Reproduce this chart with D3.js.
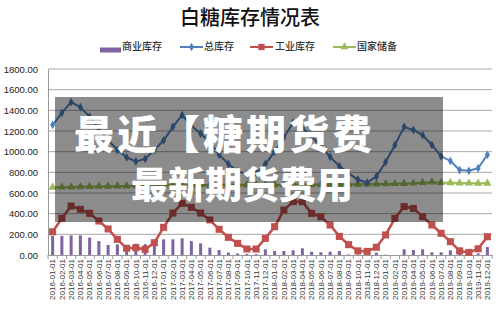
<!DOCTYPE html>
<meta charset="utf-8">
<script src="https://d3js.org/d3.v7.min.js"></script>
<style>
  body { margin: 0; background: #fff; }
  text { font-family: "Liberation Sans", "DejaVu Sans", sans-serif; }
  .cjk { font-family: "Noto Sans CJK SC", sans-serif; }
</style>
<body>
<div id="chart"></div>
<script>
    // month labels
    const months = [
        "2016-01-01", "2016-02-01", "2016-03-01", "2016-04-01", "2016-05-01", "2016-06-01",
        "2016-07-01", "2016-08-01", "2016-09-01", "2016-10-01", "2016-11-01", "2016-12-01",
        "2017-01-01", "2017-02-01", "2017-03-01", "2017-04-01", "2017-05-01", "2017-06-01",
        "2017-07-01", "2017-08-01", "2017-09-01", "2017-10-01", "2017-11-01", "2017-12-01",
        "2018-01-01", "2018-02-01", "2018-03-01", "2018-04-01", "2018-05-01", "2018-06-01",
        "2018-07-01", "2018-08-01", "2018-09-01", "2018-10-01", "2018-11-01", "2018-12-01",
        "2019-01-01", "2019-02-01", "2019-03-01", "2019-04-01", "2019-05-01", "2019-06-01",
        "2019-07-01", "2019-08-01", "2019-09-01", "2019-10-01", "2019-11-01", "2019-12-01"
    ];

    // 商业库存 (bars)
    const commercial = [
        185, 185, 190, 190, 168, 135, 97, 103, 80, 110, 105, 130,
        152, 152, 162, 135, 113, 71, 48, 23, 15, 10, 8, 55,
        39, 39, 45, 65, 32, 26, 32, 39, 5, 5, 3, 23,
        3, 0, 55, 48, 55, 26, 26, 45, 10, 5, 15, 77
    ];
    // 总库存
    const total = [
        1260, 1375, 1480, 1430, 1340, 1220, 1110, 1016, 945, 905, 930, 1016,
        1110, 1240, 1355, 1250, 1175, 1090, 970, 880, 810, 780, 790, 880,
        1000, 1140, 1280, 1230, 1150, 1050, 950, 860, 790, 730, 700, 760,
        900, 1065, 1240, 1210, 1160, 1065, 955, 910, 822, 815, 840, 970
    ];
    // 工业库存
    const industrial = [
        225, 355, 474, 442, 403, 329, 252, 152, 65, 71, 55, 119,
        268, 406, 500, 461, 406, 339, 249, 171, 113, 58, 58, 161,
        274, 435, 516, 516, 403, 370, 290, 180, 100, 40, 35, 75,
        194, 355, 468, 451, 371, 290, 210, 129, 40, 25, 60, 177
    ];
    // 国家储备
    const reserve = [
        655, 656, 658, 660, 662, 664, 665, 666, 668, 670, 671, 672,
        674, 674, 676, 676, 678, 678, 678, 680, 680, 680, 680, 680,
        680, 680, 682, 682, 682, 682, 684, 684, 684, 684, 686, 686,
        688, 690, 692, 695, 700, 705, 700, 698, 696, 695, 694, 694
    ];
    const yTicks = [0, 200, 400, 600, 800, 1000, 1200, 1400, 1600, 1800];

    const colors = {bar: "#8064A2", total: "#4F81BD", ind: "#C0504D", res: "#9BBB59"};

    const width = 500, height = 320;
    const svg = d3.select("#chart").append("svg")
        .attr("width", width)
        .attr("height", height);

    const x = d3.scaleBand().domain(months).range([48, 492]).padding(0);
    const y = d3.scaleLinear().domain([0, 1800]).range([255, 69]);
    const cx = d => x(d) + x.bandwidth() / 2;

    // title
    svg.append("text")
        .attr("class", "cjk")
        .attr("x", 250).attr("y", 16)
        .attr("text-anchor", "middle")
        .attr("dominant-baseline", "central")
        .style("font-size", "20px")
        .style("font-weight", "500")
        .style("fill", "#111")
        .text("白糖库存情况表");

    // gridlines
    svg.append("g").selectAll("line")
        .data(yTicks.filter(d => d > 0))
        .enter().append("line")
        .attr("x1", 48).attr("x2", 492)
        .attr("y1", d => y(d)).attr("y2", d => y(d))
        .style("stroke", "#a8a8a8")
        .style("stroke-width", 1);

    // y axis
    const yAxis = svg.append("g")
        .attr("transform", "translate(48,0)")
        .call(d3.axisLeft(y).tickValues(yTicks).tickSize(0).tickPadding(10).tickFormat(d3.format(".2f")));
    yAxis.select(".domain").style("stroke", "#999");
    yAxis.selectAll("text")
        .style("font-size", "9.5px")
        .style("fill", "#222")
        .attr("font-family", "Liberation Sans, sans-serif");

    // x axis
    const xAxis = svg.append("g")
        .attr("transform", "translate(0,255)")
        .call(d3.axisBottom(x).tickSize(0).tickPadding(4));
    xAxis.select(".domain").style("stroke", "#999");
    xAxis.selectAll("text")
        .attr("transform", "rotate(-90)")
        .attr("x", -4)
        .attr("y", 0)
        .attr("dy", "0.35em")
        .attr("text-anchor", "end")
        .style("font-size", "8px")
        .style("fill", "#333")
        .attr("font-family", "Liberation Sans, sans-serif");
    // tick marks at band edges
    svg.append("g").selectAll("line")
        .data(months.concat(["end"]))
        .enter().append("line")
        .attr("x1", (d, i) => 48 + i * x.bandwidth())
        .attr("x2", (d, i) => 48 + i * x.bandwidth())
        .attr("y1", 255).attr("y2", 259)
        .style("stroke", "#999");

    // bars
    svg.append("g").selectAll("rect")
        .data(commercial)
        .enter().append("rect")
        .attr("x", (d, i) => cx(months[i]) - 1.5)
        .attr("y", d => y(d))
        .attr("width", 3)
        .attr("height", d => y(0) - y(d))
        .style("fill", colors.bar);

    function drawSeries(values, color, lw, symbol, size) {
        const line = d3.line()
            .x((d, i) => cx(months[i]))
            .y(d => y(d));
        svg.append("path")
            .datum(values)
            .attr("d", line)
            .style("fill", "none")
            .style("stroke", color)
            .style("stroke-width", lw);
        svg.append("g").selectAll("path")
            .data(values)
            .enter().append("path")
            .attr("transform", (d, i) => "translate(" + cx(months[i]) + "," + y(d) + ")")
            .attr("d", d3.symbol().type(symbol).size(size))
            .style("fill", color);
    }

    drawSeries(reserve, colors.res, 2, d3.symbolTriangle, 30);
    drawSeries(total, colors.total, 2, d3.symbolDiamond, 22);
    drawSeries(industrial, colors.ind, 2.5, d3.symbolSquare, 50);

    // legend
    const leg = svg.append("g");
    leg.append("rect").attr("x", 100).attr("y", 47.5).attr("width", 21).attr("height", 5).style("fill", colors.bar);
    const legendLines = [
        {x: 180, c: colors.total, s: d3.symbolDiamond, sz: 22},
        {x: 250, c: colors.ind, s: d3.symbolSquare, sz: 40},
        {x: 333, c: colors.res, s: d3.symbolTriangle, sz: 28}
    ];
    legendLines.forEach(function (l) {
        leg.append("line").attr("x1", l.x).attr("x2", l.x + 23).attr("y1", 47).attr("y2", 47)
            .style("stroke", l.c).style("stroke-width", 2);
        leg.append("path").attr("transform", "translate(" + (l.x + 11.5) + ",47)")
            .attr("d", d3.symbol().type(l.s).size(l.sz)).style("fill", l.c);
    });
    const legendText = [
        {x: 122, t: "商业库存"},
        {x: 204, t: "总库存"},
        {x: 275, t: "工业库存"},
        {x: 357, t: "国家储备"}
    ];
    leg.selectAll("text.lt")
        .data(legendText)
        .enter().append("text")
        .attr("class", "cjk")
        .attr("x", d => d.x).attr("y", 45)
        .attr("dominant-baseline", "central")
        .style("font-size", "10px")
        .style("font-weight", "500")
        .style("fill", "#333")
        .text(d => d.t);

    // overlay banner
    svg.append("rect")
        .attr("x", 55).attr("y", 97)
        .attr("width", 388).attr("height", 125)
        .style("fill", "rgba(0,0,0,0.45)");
    svg.append("text")
        .attr("class", "cjk")
        .attr("x", 74).attr("y", 132)
        .attr("dominant-baseline", "central")
        .style("font-size", "40px")
        .style("font-weight", "900")
        .style("letter-spacing", "3px")
        .style("fill", "#fff")
        .text("最近【糖期货费");
    svg.append("text")
        .attr("class", "cjk")
        .attr("x", 131).attr("y", 183)
        .attr("dominant-baseline", "central")
        .style("font-size", "37px")
        .style("font-weight", "900")
        .style("fill", "#fff")
        .text("最新期货费用");
</script>
</body>
